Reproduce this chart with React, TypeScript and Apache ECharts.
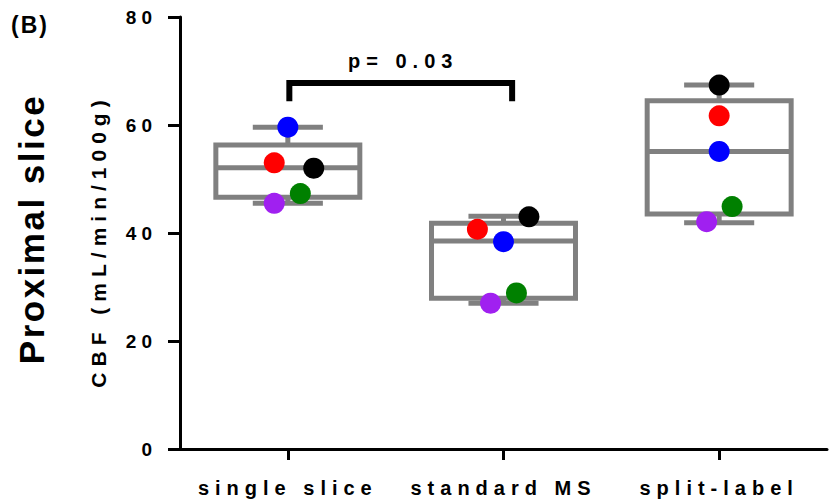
import React, { useEffect, useRef } from 'react';
import * as echarts from 'echarts';

const categories = ['single slice', 'standard MS', 'split-label'];
const yMin = 0;
const yMax = 80;
const yStep = 20;
const yTicks = [0, 20, 40, 60, 80];

// Box statistics, per category: min, Q1, median, Q3, max
const boxMin = [45.5, 27.0, 41.9];
const boxQ1 = [46.6, 27.9, 43.5];
const boxMedian = [52.1, 38.5, 55.1];
const boxQ3 = [56.3, 41.8, 64.5];
const boxMax = [59.6, 43.1, 67.4];

// Individual subjects (one colour each), per category
const blueValues = [59.6, 38.4, 55.1];
const redValues = [53.0, 40.7, 61.7];
const blackValues = [52.0, 43.0, 67.4];
const greenValues = [47.3, 28.9, 44.9];
const purpleValues = [45.5, 27.0, 42.1];

// horizontal jitter of the dots (in category widths)
const blueJitter = [0, 0, 0];
const redJitter = [-0.063, -0.121, 0];
const blackJitter = [0.12, 0.118, 0];
const greenJitter = [0.058, 0.06, 0.06];
const purpleJitter = [-0.063, -0.06, -0.058];

// significance bracket between category 0 and 1
const bracketX = [0.007, 1.04];
const bracketY = [64.4, 67.8];
const pLabelPos = [0.535, 71.9];
const pValueText = 'p= 0.03';

const yAxisTitle = 'CBF (mL/min/100g)';
const sideTitle = 'Proximal slice';
const panelTitle = '(B)';

const FONT = '"Liberation Sans", Arial, Helvetica, sans-serif';

const dotSeries = [
  { name: 'blue', color: '#0000ff', values: blueValues, jitter: blueJitter },
  { name: 'red', color: '#ff0000', values: redValues, jitter: redJitter },
  { name: 'black', color: '#000000', values: blackValues, jitter: blackJitter },
  { name: 'green', color: '#008000', values: greenValues, jitter: greenJitter },
  { name: 'purple', color: '#a020f0', values: purpleValues, jitter: purpleJitter },
];

export default function App() {
  const ref = useRef<HTMLDivElement>(null);

  useEffect(() => {
    if (!ref.current) return;
    const el = ref.current;
    const chart = echarts.init(el, undefined, { renderer: 'svg' });

    const boxData = categories.map((_, i) => [i, boxMin[i], boxQ1[i], boxMedian[i], boxQ3[i], boxMax[i]]);

    const boxStyle = { stroke: '#808080', lineWidth: 5, fill: 'none' };

    const option: any = {
      animation: false,
      backgroundColor: '#ffffff',
      grid: { left: 180, right: 8, top: 17, bottom: 53, containLabel: false },
      xAxis: [
        {
          type: 'category',
          data: categories,
          boundaryGap: true,
          axisLine: { show: true, onZero: false, lineStyle: { color: '#000', width: 3 } },
          axisTick: { show: true, alignWithLabel: true, length: 11, lineStyle: { color: '#000', width: 3 } },
          axisLabel: {
            interval: 0,
            margin: 29,
            color: '#000',
            fontSize: 20,
            fontWeight: 'bold',
            fontFamily: FONT,
          },
          splitLine: { show: false },
        },
        {
          type: 'value',
          min: -0.5,
          max: 2.5,
          show: false,
        },
      ],
      yAxis: {
        type: 'value',
        min: yMin,
        max: yMax,
        interval: yStep,
        axisLine: { show: true, onZero: false, lineStyle: { color: '#000', width: 3 } },
        axisTick: { show: true, length: 12, lineStyle: { color: '#000', width: 3 } },
        axisLabel: {
          margin: 23,
          color: '#000',
          fontSize: 19,
          fontWeight: 'bold',
          fontFamily: FONT,
        },
        splitLine: { show: false },
      },
      graphic: [
        {
          type: 'text',
          x: 11,
          y: 25,
          style: {
            text: panelTitle,
            fill: '#000',
            fontSize: 23,
            fontWeight: 'bold',
            fontFamily: FONT,
            align: 'left',
            verticalAlign: 'middle',
            textAlign: 'left',
            textVerticalAlign: 'middle',
          },
        },
        {
          type: 'text',
          x: 31,
          y: 229,
          rotation: Math.PI / 2,
          style: {
            text: sideTitle,
            fill: '#000',
            fontSize: 35,
            fontWeight: 'bold',
            fontFamily: FONT,
            align: 'center',
            verticalAlign: 'middle',
            textAlign: 'center',
            textVerticalAlign: 'middle',
          },
        },
        {
          type: 'text',
          x: 98,
          y: 241,
          rotation: Math.PI / 2,
          style: {
            text: yAxisTitle,
            fill: '#000',
            fontSize: 21,
            fontWeight: 'bold',
            fontFamily: FONT,
            align: 'center',
            verticalAlign: 'middle',
            textAlign: 'center',
            textVerticalAlign: 'middle',
          },
        },
      ],
      series: [
        {
          type: 'custom',
          name: 'boxes',
          xAxisIndex: 1,
          yAxisIndex: 0,
          z: 2,
          encode: { x: 0, y: [1, 2, 3, 4, 5] },
          data: boxData,
          renderItem: (params: any, api: any) => {
            const i = api.value(0);
            const cx = api.coord([i, api.value(3)])[0];
            const yLo = api.coord([i, api.value(1)])[1];
            const yQ1 = api.coord([i, api.value(2)])[1];
            const yMed = api.coord([i, api.value(3)])[1];
            const yQ3 = api.coord([i, api.value(4)])[1];
            const yHi = api.coord([i, api.value(5)])[1];
            const halfBox = api.size([0.6676, 0])[0] / 2;
            const halfCap = api.size([0.325, 0])[0] / 2;
            return {
              type: 'group',
              children: [
                { type: 'line', shape: { x1: cx, y1: yQ3, x2: cx, y2: yHi }, style: boxStyle },
                { type: 'line', shape: { x1: cx, y1: yQ1, x2: cx, y2: yLo }, style: boxStyle },
                { type: 'line', shape: { x1: cx - halfCap, y1: yHi, x2: cx + halfCap, y2: yHi }, style: boxStyle },
                { type: 'line', shape: { x1: cx - halfCap, y1: yLo, x2: cx + halfCap, y2: yLo }, style: boxStyle },
                {
                  type: 'rect',
                  shape: { x: cx - halfBox, y: yQ3, width: halfBox * 2, height: yQ1 - yQ3 },
                  style: boxStyle,
                },
                { type: 'line', shape: { x1: cx - halfBox, y1: yMed, x2: cx + halfBox, y2: yMed }, style: boxStyle },
              ],
            };
          },
        },
        ...dotSeries.map((s) => ({
          type: 'scatter',
          name: s.name,
          xAxisIndex: 1,
          yAxisIndex: 0,
          z: 3,
          symbol: 'circle',
          symbolSize: 21,
          itemStyle: { color: s.color, opacity: 1 },
          data: s.values.map((v, i) => [i + s.jitter[i], v]),
        })),
        {
          type: 'custom',
          name: 'significance',
          xAxisIndex: 1,
          yAxisIndex: 0,
          z: 4,
          data: [[pLabelPos[0], pLabelPos[1]]],
          renderItem: (params: any, api: any) => {
            const p1 = api.coord([bracketX[0], bracketY[0]]);
            const p2 = api.coord([bracketX[0], bracketY[1]]);
            const p3 = api.coord([bracketX[1], bracketY[1]]);
            const p4 = api.coord([bracketX[1], bracketY[0]]);
            const t = api.coord([api.value(0), api.value(1)]);
            return {
              type: 'group',
              children: [
                {
                  type: 'polyline',
                  shape: { points: [p1, p2, p3, p4] },
                  style: { stroke: '#000', lineWidth: 6, fill: 'none', lineJoin: 'miter', lineCap: 'butt' },
                },
                {
                  type: 'text',
                  x: t[0],
                  y: t[1],
                  style: {
                    text: pValueText,
                    fill: '#000',
                    fontSize: 20,
                    fontWeight: 'bold',
                    fontFamily: FONT,
                    align: 'center',
                    verticalAlign: 'middle',
                    textAlign: 'center',
                    textVerticalAlign: 'middle',
                  },
                },
              ],
            };
          },
        },
      ],
    };

    chart.setOption(option);

    // letter spacing as in the original (GraphPad-style spaced lettering)
    const spacing: Record<string, number> = {};
    yTicks.forEach((v) => (spacing[String(v)] = 5));
    categories.forEach((c) => (spacing[c] = 6));
    spacing[pValueText] = 6;
    spacing[yAxisTitle] = 6;
    spacing[panelTitle] = 2;
    spacing[sideTitle] = 2.5;

    const apply = () => {
      el.querySelectorAll('text').forEach((t) => {
        const s = spacing[(t.textContent || '').trim()];
        if (s != null) (t as SVGTextElement).style.letterSpacing = s + 'px';
      });
    };
    apply();
    chart.on('finished', apply);
    const timer = setTimeout(apply, 50);

    return () => {
      clearTimeout(timer);
      chart.dispose();
    };
  }, []);

  return (
    <div
      ref={ref}
      style={{ position: 'fixed', left: 0, top: 0, width: 835, height: 502, background: '#fff' }}
    />
  );
}
